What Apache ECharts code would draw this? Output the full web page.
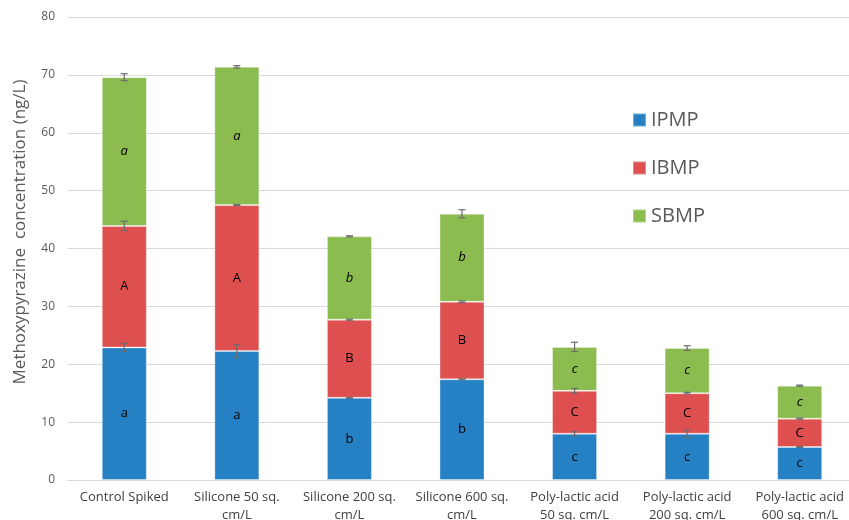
<!DOCTYPE html>
<html>
<head>
<meta charset="utf-8">
<script src="https://cdn.jsdelivr.net/npm/echarts@6/dist/echarts.min.js"></script>
<style>
  html, body { margin: 0; padding: 0; background: #fff; }
  #chart { width: 849px; height: 520px; }
</style>
</head>
<body>
<div id="chart"></div>
<script>
// Treatments on the x axis
const categories = [
  'Control Spiked',
  'Silicone 50 sq.\ncm/L',
  'Silicone 200 sq.\ncm/L',
  'Silicone 600 sq.\ncm/L',
  'Poly-lactic acid\n50 sq. cm/L',
  'Poly-lactic acid\n200 sq. cm/L',
  'Poly-lactic acid\n600 sq. cm/L'
];

// Mean concentrations (ng/L) for each methoxypyrazine
const ipmp = [22.9, 22.3, 14.2, 17.4, 8.0, 8.0, 5.7];
const ibmp = [21.0, 25.2, 13.5, 13.4, 7.4, 7.0, 4.9];
const sbmp = [25.7, 23.9, 14.4, 15.2, 7.6, 7.8, 5.7];

// Standard errors
const ipmpErr = [0.7, 1.1, 0.1, 0.1, 0.35, 0.6, 0.1];
const ibmpErr = [0.8, 0.1, 0.1, 0.15, 0.4, 0.15, 0.1];
const sbmpErr = [0.6, 0.2, 0.1, 0.7, 0.8, 0.4, 0.1];

// Significance letters
const ipmpLetters = ['a', 'a', 'b', 'b', 'c', 'c', 'c'];
const ibmpLetters = ['A', 'A', 'B', 'B', 'C', 'C', 'C'];
const sbmpLetters = ['a', 'a', 'b', 'b', 'c', 'c', 'c'];

// Y axis ticks
const yMin = 0, yMax = 80, yStep = 10;
const yTitle = 'Methoxypyrazine  concentration (ng/L)';

const FONT = '"Open Sans", sans-serif';
const colors = { IPMP: '#2581C4', IBMP: '#DE4F4F', SBMP: '#8CBB50' };

// Tops of each stacked segment, used to place the error bars
const errData = [];
categories.forEach((c, i) => {
  const t1 = ipmp[i];
  const t2 = t1 + ibmp[i];
  const t3 = t2 + sbmp[i];
  errData.push([i, t1, ipmpErr[i]]);
  errData.push([i, t2, ibmpErr[i]]);
  errData.push([i, t3, sbmpErr[i]]);
});

function barSeries(name, values, letters, italic) {
  return {
    name: name,
    type: 'bar',
    stack: 'total',
    barWidth: '40%',
    data: values,
    itemStyle: {
      color: colors[name],
      borderColor: 'rgba(255,255,255,0.35)',
      borderWidth: 1
    },
    label: {
      show: true,
      position: 'inside',
      formatter: p => letters[p.dataIndex],
      color: '#000',
      fontFamily: FONT,
      fontSize: 13,
      fontStyle: italic ? 'italic' : 'normal'
    },
    emphasis: { disabled: true }
  };
}

const chart = echarts.init(document.getElementById('chart'), null, { renderer: 'canvas' });

chart.setOption({
  animation: false,
  backgroundColor: '#fff',
  grid: {
    left: 68, right: -7, top: 17, bottom: 40,
    containLabel: false,
    outerBoundsMode: 'none'
  },
  graphic: [{
    type: 'text',
    x: 20,
    y: 232,
    rotation: Math.PI / 2,
    style: {
      text: yTitle,
      fill: '#595959',
      font: '17px "Open Sans", sans-serif',
      align: 'center',
      verticalAlign: 'middle'
    }
  }],
  legend: {
    orient: 'vertical',
    left: 627,
    top: 102,
    itemWidth: 13,
    itemHeight: 13,
    itemGap: 22,
    icon: 'rect',
    textStyle: { color: '#595959', fontFamily: FONT, fontSize: 20, lineHeight: 26 },
    data: ['IPMP', 'IBMP', 'SBMP']
  },
  xAxis: {
    type: 'category',
    data: categories,
    axisTick: { show: false },
    axisLine: { show: true, lineStyle: { color: '#d9d9d9' } },
    axisLabel: {
      color: '#404040',
      fontFamily: FONT,
      fontSize: 13,
      lineHeight: 18,
      margin: 8,
      interval: 0
    }
  },
  yAxis: {
    type: 'value',
    min: yMin,
    max: yMax,
    interval: yStep,
    axisLine: { show: false },
    axisTick: { show: false },
    axisLabel: { color: '#595959', fontFamily: FONT, fontSize: 12, margin: 13 },
    splitLine: { lineStyle: { color: '#d9d9d9', width: 1 } }
  },
  series: [
    barSeries('IPMP', ipmp, ipmpLetters, false),
    barSeries('IBMP', ibmp, ibmpLetters, false),
    barSeries('SBMP', sbmp, sbmpLetters, true),
    {
      name: 'error',
      type: 'custom',
      z: 10,
      silent: true,
      data: errData,
      renderItem: function (params, api) {
        const i = api.value(0);
        const top = api.value(1);
        const e = api.value(2);
        const hi = api.coord([i, top + e]);
        const lo = api.coord([i, top - e]);
        const hw = 3.5;
        const style = { stroke: '#6b6b6b', lineWidth: 1.2, fill: null };
        return {
          type: 'group',
          children: [
            { type: 'line', shape: { x1: hi[0], y1: hi[1], x2: lo[0], y2: lo[1] }, style: style },
            { type: 'line', shape: { x1: hi[0] - hw, y1: hi[1], x2: hi[0] + hw, y2: hi[1] }, style: style },
            { type: 'line', shape: { x1: lo[0] - hw, y1: lo[1], x2: lo[0] + hw, y2: lo[1] }, style: style }
          ]
        };
      }
    }
  ]
});
</script>
</body>
</html>
